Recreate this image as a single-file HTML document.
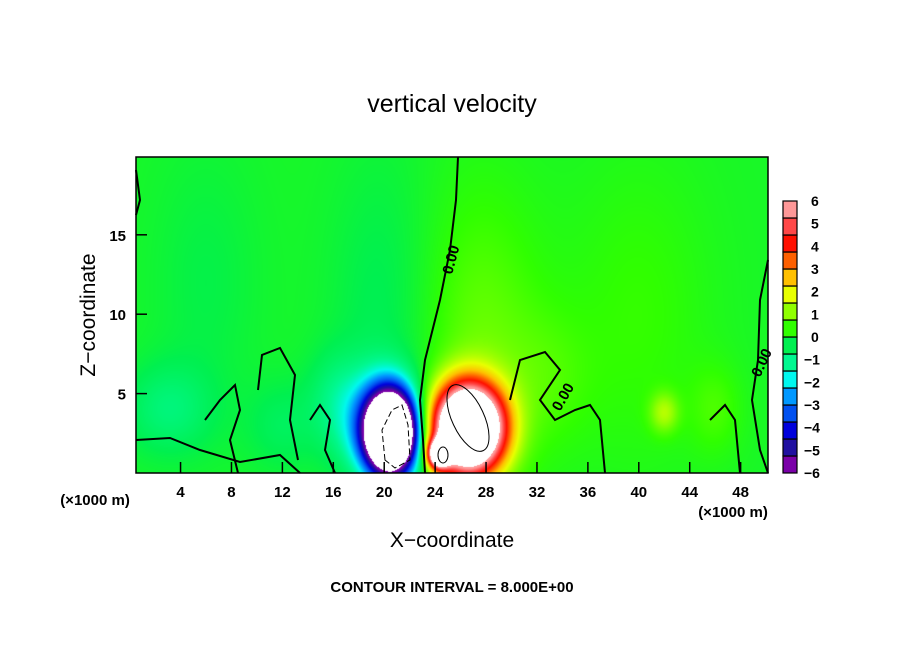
<!DOCTYPE html>
<html><head><meta charset="utf-8"><style>
body{margin:0;background:#fff;width:904px;height:654px;overflow:hidden;font-family:"Liberation Sans",sans-serif}
</style></head><body>
<div style="position:relative;width:904px;height:654px">
<canvas id="field" width="632" height="316" style="position:absolute;left:136px;top:157px"></canvas>
<svg id="svg" width="904" height="654" style="position:absolute;left:0;top:0" font-family="Liberation Sans, sans-serif">
<text x="452" y="112" font-size="25" text-anchor="middle">vertical velocity</text>
<text x="452" y="547" font-size="21" text-anchor="middle">X−coordinate</text>
<text x="95" y="315" font-size="21" text-anchor="middle" transform="rotate(-90 95 315)">Z−coordinate</text>
<text x="95" y="505" font-size="15" font-weight="bold" text-anchor="middle">(×1000 m)</text>
<text x="733" y="517" font-size="15" font-weight="bold" text-anchor="middle">(×1000 m)</text>
<text x="452" y="592" font-size="15" font-weight="bold" text-anchor="middle">CONTOUR INTERVAL = 8.000E+00</text>
<g id="contours" fill="none" stroke="#000" stroke-width="2">
<path d="M458 157 L456 200 L450 250 L440 300 L430 340 L425 360 L420 400 L423 440 L425 473"/>
<path d="M136 440 L170 438 L200 450 L240 462 L280 455 L300 473"/>
<path d="M205 420 L220 400 L235 385 L240 410 L230 440 L238 473"/>
<path d="M258 390 L262 355 L280 348 L295 375 L290 420 L298 460"/>
<path d="M310 420 L320 405 L330 420 L325 450 L335 473"/>
<path d="M510 400 L520 360 L545 352 L560 370 L540 400 L555 420 L575 410 L590 405 L600 420 L605 473"/>
<path d="M710 420 L725 405 L735 420 L740 473"/>
<path d="M768 260 L760 300 L758 360 L752 400 L760 450 L768 473"/>
<path d="M136 170 L140 200 L136 215"/>
<ellipse cx="468" cy="418" rx="16" ry="36" transform="rotate(-25 468 418)" stroke-width="1"/>
<ellipse cx="443" cy="455" rx="5" ry="8" stroke-width="1"/>
<path d="M385 460 L382 430 L392 410 L402 405 L408 425 L410 460 L395 468 Z" stroke-width="1" stroke-dasharray="6 3"/>
</g>
<g font-size="15" font-weight="bold">
<text x="452" y="275" transform="rotate(-75 452 275)">0.00</text>
<text x="560" y="412" transform="rotate(-60 560 412)">0.00</text>
<text x="760" y="378" transform="rotate(-65 760 378)">0.00</text>
</g>
<rect x="136" y="157" width="632" height="316" fill="none" stroke="#000" stroke-width="1.5"/>
<g id="xticks" font-size="15" font-weight="bold" text-anchor="middle"></g>
<g id="yticks" font-size="15" font-weight="bold" text-anchor="end"></g>
<g id="cbar" font-weight="bold"></g>
</svg>
</div>
<script>
const xTicks=[4,8,12,16,20,24,28,32,36,40,44,48];
const yTicks=[5,10,15];
const cbarLabels=[6,5,4,3,2,1,0,-1,-2,-3,-4,-5,-6];
const cbarColors=["#7a00a8","#2010a0","#0000dc","#0050f0","#0098ff","#00f8ee","#00f890","#00f050","#30ff00","#90ff00","#e8ff00","#ffc000","#ff6000","#ff1000","#ff4848","#ff9898"];
// blobs: x km, z km, amplitude, sigma x, sigma z
const blobX=[20.5,19.5,26.6,24.3,20.0,3.0,12.0,27.5,42.0,40.0,6.0,33.0,16.0,46.0];
const blobZ=[2.5,3.2,2.8,1.2,10.0,4.0,3.0,8.0,3.8,10.0,12.0,6.0,5.0,4.0];
const blobA=[-14,-2.4,13,8,-0.45,-0.8,-0.5,0.8,1.2,0.4,-0.3,0.4,-0.5,0.5];
const blobSX=[1.3,2.2,1.7,0.6,3.0,2.5,2.0,3.5,0.8,4.0,3.0,2.5,1.5,1.5];
const blobSZ=[1.7,2.2,1.7,0.6,7.0,2.0,2.0,7.0,0.9,7.0,6.0,3.0,2.0,2.0];
const X0=0.5,X1=50.15,Z0=0,Z1=19.9,L=136,T=157,W=632,H=316;
const sx=v=>L+(v-X0)/(X1-X0)*W, sz=v=>T+H-(v-Z0)/(Z1-Z0)*H;
const ns="http://www.w3.org/2000/svg";
function hex(c){return [1,3,5].map(i=>parseInt(c.substr(i,2),16));}
const pal=cbarColors.map(hex);
function color(v){
 if(v>6||v<-6) return [255,255,255];
 let f=(v+6)/0.75-0.5; f=Math.max(0,Math.min(15,f));
 let i=Math.floor(f),t=f-i; if(i>=15){i=14;t=1;}
 return [0,1,2].map(k=>pal[i][k]*(1-t)+pal[i+1][k]*t);
}
const ctx=document.getElementById('field').getContext('2d');
const img=ctx.createImageData(W,H);
for(let py=0;py<H;py++)for(let px=0;px<W;px++){
 const x=X0+(px+0.5)/W*(X1-X0), z=Z1-(py+0.5)/H*(Z1-Z0);
 let v=0;
 for(let b=0;b<blobX.length;b++){
  let dx=x-blobX[b],dz=z-blobZ[b];
  if(b==2){const c=Math.cos(0.5),s=Math.sin(0.5);const a=dx*c-dz*s*0.5;dz=dx*s*0.5+dz*c;dx=a;}
  v+=blobA[b]*Math.exp(-(dx*dx/(2*blobSX[b]*blobSX[b])+dz*dz/(2*blobSZ[b]*blobSZ[b])));
 }
 const c=color(v),o=(py*W+px)*4;
 img.data[o]=c[0];img.data[o+1]=c[1];img.data[o+2]=c[2];img.data[o+3]=255;
}
ctx.putImageData(img,0,0);
const gx=document.getElementById('xticks');
xTicks.forEach(t=>{
 const l=document.createElementNS(ns,'line');
 
 
 l.setAttribute('x1',sx(t));l.setAttribute('x2',sx(t));l.setAttribute('y1',473);l.setAttribute('y2',462);l.setAttribute('stroke','#000');l.setAttribute('stroke-width','1.5');
 gx.appendChild(l);
 const tx=document.createElementNS(ns,'text');
 
 
 tx.setAttribute('x',sx(t));tx.setAttribute('y',497);tx.textContent=t;gx.appendChild(tx);
});
const gy=document.getElementById('yticks');
yTicks.forEach(t=>{
 const l=document.createElementNS(ns,'line');
 
 
 l.setAttribute('x1',136);l.setAttribute('x2',147);l.setAttribute('y1',sz(t));l.setAttribute('y2',sz(t));l.setAttribute('stroke','#000');l.setAttribute('stroke-width','1.5');
 gy.appendChild(l);
 const tx=document.createElementNS(ns,'text');
 
 
 tx.setAttribute('x',126);tx.setAttribute('y',sz(t)+6);tx.textContent=t;gy.appendChild(tx);
});
const gc=document.getElementById('cbar');
const cT=201,cB=473,bh=(cB-cT)/cbarColors.length;
cbarColors.forEach((c,i)=>{
 const r=document.createElementNS(ns,'rect');
 
 
 r.setAttribute('x',783);r.setAttribute('y',cB-(i+1)*bh);r.setAttribute('width',14);r.setAttribute('height',bh);
 r.setAttribute('fill',c);r.setAttribute('stroke','#000');r.setAttribute('stroke-width','1.2');gc.appendChild(r);
});
cbarLabels.forEach((t,i)=>{
 const tx=document.createElementNS(ns,'text');
 
 
 tx.setAttribute('x',t<0?804:811);tx.setAttribute('y',cT+i*(cB-cT)/12+5);tx.setAttribute('font-size','14');
 tx.textContent=t<0?'−'+(-t):t;gc.appendChild(tx);
});
</script>
</body></html>
